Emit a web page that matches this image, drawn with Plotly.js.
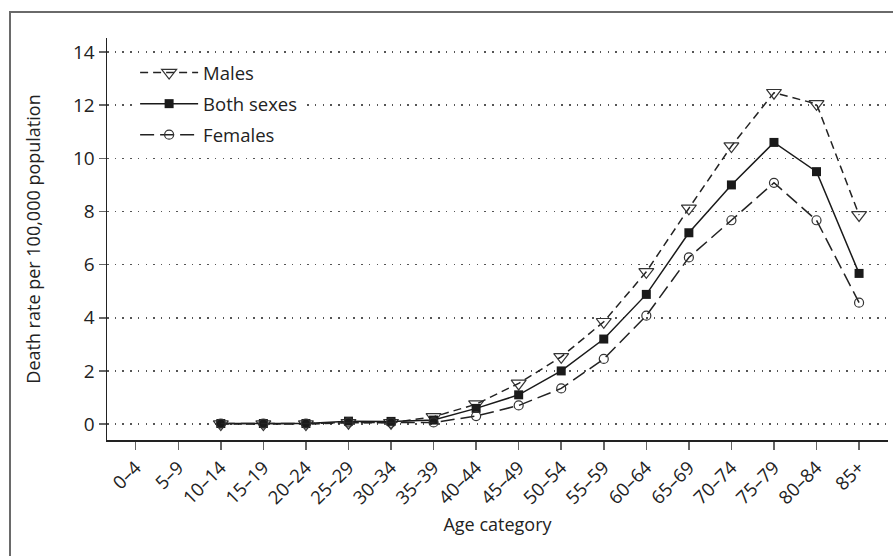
<!DOCTYPE html>
<html>
<head>
<meta charset="utf-8">
<script src="https://cdn.plot.ly/plotly-3.0.1.min.js"></script>
<style>
html,body{margin:0;padding:0;background:#fff;}
#wrap{position:relative;width:893px;height:556px;overflow:hidden;}
#frame{position:absolute;left:9px;top:11px;width:900px;height:600px;border-left:2px solid #6a6a6a;border-top:2px solid #6a6a6a;pointer-events:none;z-index:2;}
#chart{position:absolute;left:0;top:0;width:893px;height:556px;}
</style>
</head>
<body>
<div id="wrap"><div id="chart"></div><div id="frame"></div></div>
<script>
var ageCategories = ["0–4","5–9","10–14","15–19","20–24","25–29","30–34","35–39","40–44","45–49","50–54","55–59","60–64","65–69","70–74","75–79","80–84","85+"];
var males      = [null, null, 0.0, 0.0, 0.0, 0.05, 0.05, 0.27, 0.75, 1.53, 2.53, 3.85, 5.73, 8.12, 10.46, 12.47, 12.05, 7.87];
var bothSexes  = [null, null, 0.02, 0.02, 0.02, 0.11, 0.1, 0.15, 0.59, 1.1, 2.0, 3.2, 4.88, 7.2, 9.0, 10.6, 9.5, 5.67];
var females    = [null, null, 0.02, 0.02, 0.02, 0.06, 0.05, 0.06, 0.3, 0.7, 1.34, 2.45, 4.08, 6.27, 7.67, 9.08, 7.67, 4.57];

var FONT = "Open Sans, Noto Sans, sans-serif";
var traces = [
  {name: "Males", x: ageCategories, y: males, type: "scatter", mode: "lines+markers",
   legendgroup: "m",
   line: {color: "#222", width: 1.5, dash: "8px,5px"},
   marker: {symbol: "triangle-down-open", size: 13, color: "#333", line: {width: 1.2, color: "#333"}}},
  {name: "Both sexes", x: ageCategories, y: bothSexes, type: "scatter", mode: "lines+markers",
   legendgroup: "b",
   line: {color: "#1a1a1a", width: 1.5},
   marker: {symbol: "square", size: 9, color: "#1a1a1a"}},
  {name: "Females", x: ageCategories, y: females, type: "scatter", mode: "lines+markers",
   legendgroup: "f",
   line: {color: "#222", width: 1.5, dash: "14px,6px"},
   marker: {symbol: "circle-open", size: 9, color: "#333", line: {width: 1.2, color: "#333"}}}
];

var layout = {
  width: 893, height: 556,
  margin: {l: 107, r: 5, t: 38, b: 116},
  paper_bgcolor: "#fff", plot_bgcolor: "#fff",
  font: {family: FONT, size: 18, color: "#222"},
  showlegend: true,
  legend: {x: 0.036, y: 0.96, xanchor: "left", yanchor: "top", bgcolor: "#fff",
           font: {family: FONT, size: 18.5, color: "#222"}, itemwidth: 58, tracegroupgap: 4,
           traceorder: "grouped"},
  xaxis: {
    type: "category", range: [-0.675, 17.68],
    tickangle: -45, ticks: "outside", ticklen: 8, tickcolor: "#666", tickwidth: 1.5,
    showline: true, linecolor: "#222", linewidth: 1.5, showgrid: false, zeroline: false,
    tickfont: {family: FONT, size: 18.5, color: "#222"},
    title: {text: "Age category", font: {family: FONT, size: 18, color: "#222"}, standoff: 10}
  },
  yaxis: {
    range: [-0.6, 14.53], dtick: 2, tick0: 0,
    ticks: "outside", ticklen: 7, tickcolor: "#666", tickwidth: 1.5,
    showline: true, linecolor: "#222", linewidth: 1.5, zeroline: false,
    showgrid: true, gridcolor: "#555", gridwidth: 1.5, griddash: "1.5px,6.2px",
    tickfont: {family: FONT, size: 19, color: "#222"},
    title: {text: "Death rate per 100,000 population", font: {family: FONT, size: 18, color: "#222"}, standoff: 27}
  }
};
Plotly.newPlot("chart", traces, layout, {displayModeBar: false, staticPlot: true});
</script>
</body>
</html>
